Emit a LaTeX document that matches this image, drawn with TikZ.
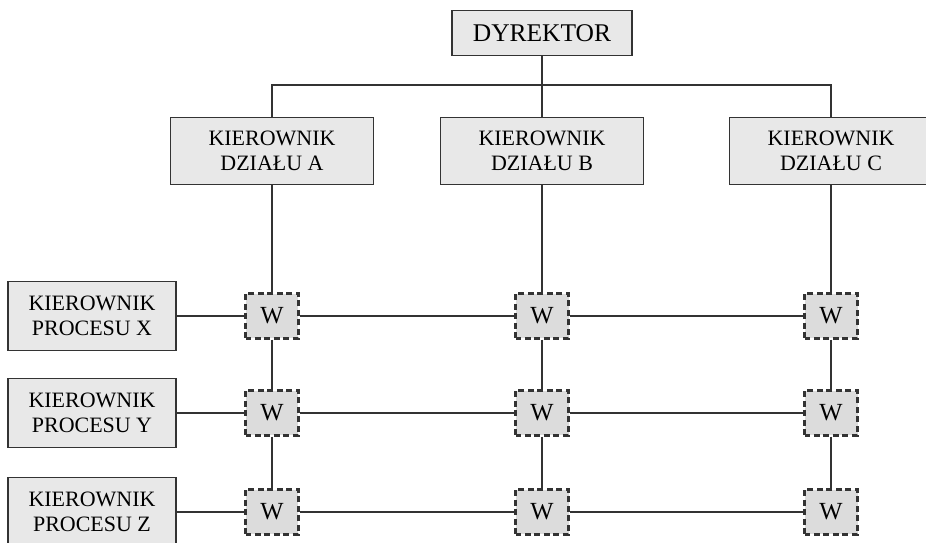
\documentclass[tikz,border=0pt]{standalone}
\usepackage{fontspec}
\setmainfont{Liberation Serif}
\usetikzlibrary{positioning}

\definecolor{boxfill}{HTML}{E8E8E8}
\definecolor{wfill}{HTML}{DCDCDC}
\definecolor{edge}{HTML}{333333}

\begin{document}
\begin{tikzpicture}[
        x=0.02cm, y=-0.02cm,
        every node/.style={font=\fontsize{12.5}{14}\selectfont},
        chief/.style={rectangle, draw=edge, line width=0.9pt, fill=boxfill,
            minimum width=3.6cm, minimum height=0.9cm, text centered,
            font=\fontsize{14.5}{16}\selectfont},
        head/.style={rectangle, draw=edge, line width=0.9pt, fill=boxfill,
            minimum width=4.06cm, minimum height=1.34cm, align=center},
        proc/.style={rectangle, draw=edge, line width=0.9pt, fill=boxfill,
            minimum width=3.36cm, minimum height=1.38cm, align=center},
        wbox/.style={rectangle, draw=edge, line width=1.3pt,
            dash pattern=on 3.4pt off 2pt, fill=wfill,
            minimum width=1.06cm, minimum height=0.9cm, inner sep=0pt,
            font=\fontsize{14}{16}\selectfont},
        link/.style={draw=edge, line width=0.9pt}
    ]
    \useasboundingbox (0,0) rectangle (926,543);

    \node (dyr)   [chief] at (542,33)  {DYREKTOR};
    \node (kierA) [head]  at (272,151) {KIEROWNIK\\DZIAŁU A};
    \node (kierB) [head]  at (542,151) {KIEROWNIK\\DZIAŁU B};
    \node (kierC) [head]  at (831,151) {KIEROWNIK\\DZIAŁU C};

    \node (procX) [proc] at (92,316) {KIEROWNIK\\PROCESU X};
    \node (procY) [proc] at (92,413) {KIEROWNIK\\PROCESU Y};
    \node (procZ) [proc] at (92,512) {KIEROWNIK\\PROCESU Z};

    % W nodes at each crossing
    \foreach \r/\ry in {X/316, Y/413, Z/512}
        \foreach \c/\cx in {A/272, B/542, C/831}
            \node (w\r\c) [wbox] at (\cx,\ry) {W};

    \coordinate (bus) at (542,85);
    \draw [link] (kierA.north) |- (bus) -| (kierC.north);
    \draw [link] (dyr.south) -- (kierB.north);

    \foreach \c in {A, B, C} {
        \draw [link] (kier\c.south) -- (wX\c.north);
        \draw [link] (wX\c.south)   -- (wY\c.north);
        \draw [link] (wY\c.south)   -- (wZ\c.north);
    }
    \foreach \r in {X, Y, Z} {
        \draw [link] (proc\r.east) -- (w\r A.west);
        \draw [link] (w\r A.east)  -- (w\r B.west);
        \draw [link] (w\r B.east)  -- (w\r C.west);
    }
\end{tikzpicture}
\end{document}
